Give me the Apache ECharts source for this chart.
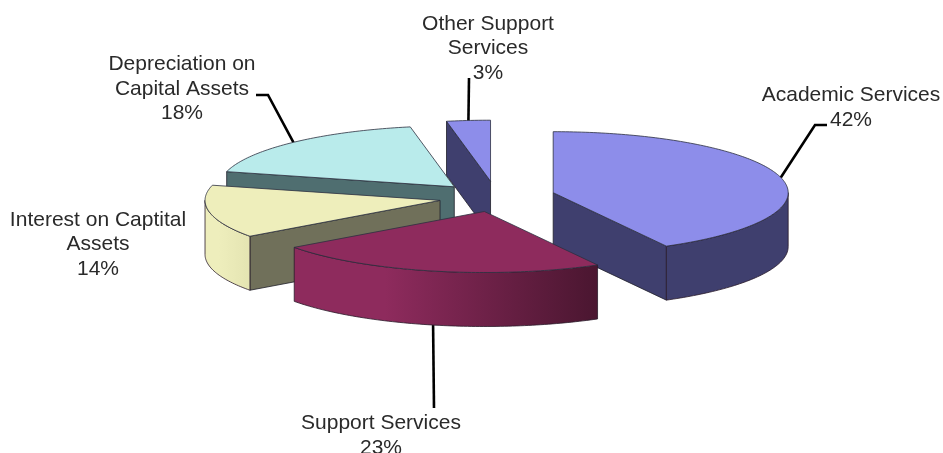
<!DOCTYPE html>
<html>
<head>
<meta charset="utf-8">
<style>html,body{margin:0;padding:0;background:#fff}#chart{width:943px;height:453px}</style>
<script src="https://cdn.jsdelivr.net/npm/echarts@6/dist/echarts.min.js"></script>
</head>
<body>
<div id="chart"></div>
<script>
// Expense shares, clockwise from twelve o'clock
const sliceNames = ['Academic Services', 'Support Services', 'Interest on Captital\nAssets', 'Depreciation on\nCapital Assets', 'Other Support\nServices'];
const sliceShares = [42, 23, 14, 18, 3];

// Drawing styles for each slice: top face, cut faces, rim gradient ends
const topColors = ['#8d8dea', '#8e2b5d', '#eeeebb', '#b9ebeb', '#8d8dea'];
const wallColors = ['#3f3f6e', '#5a1c3c', '#70705a', '#4f6e70', '#3f3f6e'];
const rimColors = [['#3f3f6e', '#3f3f6e'], ['#8e2b5d', '#4a1630'], ['#eeeebc', '#e4e4b2'], ['#4f6e70', '#4f6e70'], ['#3f3f6e', '#3f3f6e']];

// Label centres and the elbow of each leader line, in pixels
const labelCenters = [[851, 107.5], [381, 435.5], [98, 244.5], [182, 89], [488, 48.5]];
const leaderElbows = [[[815, 125], [827, 125]], [[434, 408]], [], [[268, 95], [256, 95]], [[469, 78]]];

// Projection of the tilted pie, plus small per-slice offsets in pixels
const pie = { cx: 497, cy: 196.5, rx: 235, ry: 61, explode: 58, tilt: 0.265, depth: 54 };
const sliceNudges = [[0, 0], [0, 0], [0, 1], [-3, 1.5], [-1, 0]];

const total = sliceShares.reduce((a, b) => a + b, 0);
let running = 0;
const slices = sliceShares.map((share, i) => {
  const start = running / total * 360;
  running += share;
  const end = running / total * 360;
  const mid = (start + end) / 2 * Math.PI / 180;
  return {
    i, share, start, end, midDeg: (start + end) / 2,
    ax: pie.cx + pie.explode * Math.sin(mid) + sliceNudges[i][0],
    ay: pie.cy - pie.explode * pie.tilt * Math.cos(mid) + sliceNudges[i][1]
  };
});
// Paint from the back of the pie towards the viewer
const paintOrder = slices.slice().sort((a, b) => a.ay - b.ay);

function rimPoint(s, deg, drop) {
  const t = deg * Math.PI / 180;
  return [s.ax + pie.rx * Math.sin(t), s.ay - pie.ry * Math.cos(t) + (drop || 0)];
}
function arc(s, from, to, drop) {
  const pts = [];
  const steps = Math.max(1, Math.ceil(Math.abs(to - from)));
  for (let k = 0; k <= steps; k++) pts.push(rimPoint(s, from + (to - from) * k / steps, drop));
  return pts;
}

function poly(points, fill, stroke) {
  return { type: 'polygon', shape: { points }, style: { fill, stroke, lineWidth: 0.8, lineJoin: 'round' } };
}

function drawSlice(params, api) {
  const s = slices[api.value(0)];
  const i = s.i;
  const d = pie.depth;
  const apex = [s.ax, s.ay];
  const apexLow = [s.ax, s.ay + d];
  const kids = [];
  // A cut face is drawn only when it turns towards the viewer
  const sinOf = a => Math.sin(a * Math.PI / 180);
  if (sinOf(s.start) < -1e-6) kids.push(poly([apex, rimPoint(s, s.start), rimPoint(s, s.start, d), apexLow], wallColors[i], '#20202a'));
  if (sinOf(s.end) > 1e-6) kids.push(poly([apex, rimPoint(s, s.end), rimPoint(s, s.end, d), apexLow], wallColors[i], '#20202a'));
  // Outer wall on the near half of the rim
  const from = Math.max(s.start, 90), to = Math.min(s.end, 270);
  if (to > from) {
    const pts = arc(s, from, to, 0).concat(arc(s, to, from, d));
    const c = rimColors[i];
    kids.push(poly(pts, new echarts.graphic.LinearGradient(0, 0, 1, 0, [
      { offset: 0, color: c[0] }, { offset: 0.3, color: c[0] }, { offset: 1, color: c[1] }
    ]), '#2a1a2a'));
  }
  // Top face
  kids.push(poly([apex].concat(arc(s, s.start, s.end, 0)), topColors[i], '#2c3040'));
  return { type: 'group', children: kids };
}

function drawLabel(params, api) {
  const s = slices[api.value(0)];
  const i = s.i;
  const kids = [];
  const elbows = leaderElbows[i];
  if (elbows.length) {
    // Leaders start on the rim at the slice's middle angle
    const front = s.midDeg > 90 && s.midDeg < 270;
    const anchor = rimPoint(s, s.midDeg, front ? pie.depth : 0);
    kids.push({
      type: 'polyline',
      shape: { points: [anchor].concat(elbows) },
      style: { fill: 'none', stroke: '#000', lineWidth: 2.6 }
    });
  }
  kids.push({
    type: 'text',
    style: {
      x: labelCenters[i][0], y: labelCenters[i][1],
      text: sliceNames[i] + '\n' + s.share + '%',
      fill: '#2a2a2a', align: 'center', verticalAlign: 'middle',
      font: '21px "Liberation Sans", Arial, sans-serif', lineHeight: 24.5
    }
  });
  return { type: 'group', children: kids };
}

const chart = echarts.init(document.getElementById('chart'), null, { renderer: 'canvas' });
const orderData = paintOrder.map(s => [s.i]);
chart.setOption({
  animation: false,
  backgroundColor: '#fff',
  series: [
    { type: 'custom', coordinateSystem: 'none', silent: true, z: 2, data: orderData, renderItem: drawSlice },
    { type: 'custom', coordinateSystem: 'none', silent: true, z: 1, data: orderData, renderItem: drawLabel }
  ]
});
</script>
</body>
</html>
